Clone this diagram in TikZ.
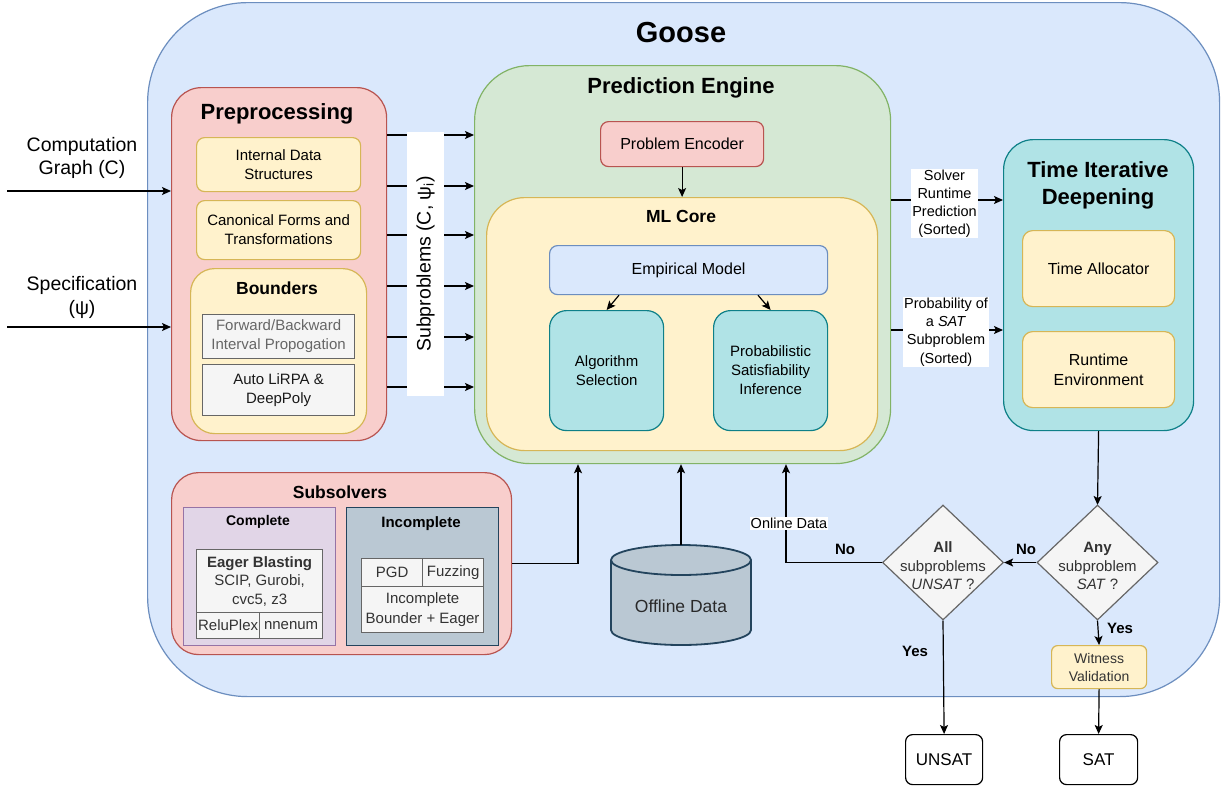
\documentclass[tikz,border=0pt]{standalone}
\usepackage{fontspec}
\setmainfont{Liberation Sans}
\usetikzlibrary{arrows.meta,shapes.geometric}
\definecolor{bfill}{HTML}{DAE8FC}\definecolor{bdraw}{HTML}{6C8EBF}
\definecolor{rfill}{HTML}{F8CECC}\definecolor{rdraw}{HTML}{B85450}
\definecolor{gfill}{HTML}{D5E8D4}\definecolor{gdraw}{HTML}{82B366}
\definecolor{yfill}{HTML}{FFF2CC}\definecolor{ydraw}{HTML}{D6B656}
\definecolor{tfill}{HTML}{B0E3E6}\definecolor{tdraw}{HTML}{0E8088}
\definecolor{kfill}{HTML}{F5F5F5}\definecolor{kdraw}{HTML}{666666}
\definecolor{pfill}{HTML}{E1D5E7}\definecolor{pdraw}{HTML}{9673A6}
\definecolor{sfill}{HTML}{BAC8D3}\definecolor{sdraw}{HTML}{23445D}
\definecolor{txtgray}{HTML}{333333}
\newcommand\fsz[2]{\fontsize{#1}{#2}\selectfont}
\tikzset{
  box/.style={draw, line width=1.2pt, inner sep=0pt, anchor=north west, align=center},
  redbox/.style={box, fill=rfill, draw=rdraw},
  grnbox/.style={box, fill=gfill, draw=gdraw},
  yelbox/.style={box, fill=yfill, draw=ydraw},
  tealbox/.style={box, fill=tfill, draw=tdraw},
  bluebox/.style={box, fill=bfill, draw=bdraw},
  graycell/.style={box, fill=kfill, draw=kdraw, text=txtgray},
  whitebox/.style={box, fill=white, draw=black},
  bigttl/.style={font=\bfseries\fsz{22}{27}, align=center, inner sep=0pt},
  midttl/.style={font=\bfseries\fsz{17.5}{21}, align=center, inner sep=0pt},
  dia/.style={diamond, draw=kdraw, fill=kfill, line width=1.2pt, minimum width=121pt, minimum height=115pt, inner sep=0pt},
  arr/.style={line width=1.2pt, -{Stealth[length=9pt,width=8pt,inset=2pt]}},
  conn/.style={line width=1.2pt},
  lbl/.style={fill=white, inner sep=1pt, align=center},
  yn/.style={font=\bfseries\fsz{15}{18}, inner sep=0pt},
}
\begin{document}
\begin{tikzpicture}[x=1pt,y=-1pt]
\fill[white] (0,0) rectangle (1223,785);
\useasboundingbox (0,0) rectangle (1223,785);

% Goose container
\node[bluebox, rounded corners=100pt, minimum width=1072pt, minimum height=694pt] (goose) at (147,2) {};
\node[font=\bfseries\fsz{29}{34}, inner sep=0pt] (gooset) at (681,33) {Goose};

% Inputs
\node[font=\fsz{19.5}{23}, align=center] (cg) at (82,158) {Computation\\Graph (C)};
\node[font=\fsz{19.5}{24}, align=center] (spec) at (82,297) {Specification\\(ψ)};
\coordinate (cgs) at (7,191);
\coordinate (sps) at (7,327);

% Preprocessing
\node[redbox, rounded corners=30pt, minimum width=215pt, minimum height=353pt] (pre) at (171,87) {};
\node[bigttl] (pret) at (277,114) {Preprocessing};
\node[yelbox, rounded corners=8pt, minimum width=164pt, minimum height=54pt, font=\fsz{15}{19}] (ids) at (196,137) {Internal Data\\Structures};
\node[yelbox, rounded corners=8pt, minimum width=164pt, minimum height=59pt, font=\fsz{15}{19}] (can) at (196,200) {Canonical Forms and\\Transformations};
\node[yelbox, rounded corners=24pt, minimum width=176pt, minimum height=165pt] (bnd) at (190,268) {};
\node[midttl] (bndt) at (277,288) {Bounders};
\node[graycell, minimum width=152pt, minimum height=44pt, font=\fsz{15}{19}, text=black!60] (fwd) at (202,314) {Forward/Backward\\Interval Propogation};
\node[graycell, minimum width=152pt, minimum height=51pt, font=\fsz{15}{19}, text=black!90] (alp) at (202,364) {Auto LiRPA \&\\DeepPoly};

\draw[arr] (cgs) -- (cgs -| pre.west);
\draw[arr] (sps) -- (sps -| pre.west);

% Prediction engine
\node[grnbox, rounded corners=55pt, minimum width=416pt, minimum height=398pt] (pe) at (474,65) {};
\node[bigttl] (pet) at (681,88) {Prediction Engine};
\node[redbox, rounded corners=8pt, minimum width=163pt, minimum height=45pt, font=\fsz{16}{19}] (enc) at (600,121) {Problem Encoder};
\node[yelbox, rounded corners=38pt, minimum width=391pt, minimum height=253pt] (ml) at (486,197) {};
\node[midttl] (mlt) at (681,216) {ML Core};
\node[bluebox, rounded corners=8pt, minimum width=278pt, minimum height=49pt, font=\fsz{16}{19}] (emp) at (549,245) {Empirical Model};
\node[tealbox, rounded corners=17pt, minimum width=114pt, minimum height=120pt, font=\fsz{15}{19}] (alg) at (549,310) {Algorithm\\Selection};
\node[tealbox, rounded corners=17pt, minimum width=114pt, minimum height=120pt, font=\fsz{15}{19}] (prob) at (713,310) {Probabilistic\\Satisfiability\\Inference};
\draw[arr] (enc.south) -- (ml.north);
\draw[arr] ([xshift=70pt]emp.south west) -- (alg.north);
\draw[arr] ([xshift=209pt]emp.south west) -- (prob.north);

% Subproblem arrows
\foreach \yy [count=\k] in {135,186,235,286,337,387} {
  \coordinate (sp\k) at (0,\yy);
  \draw[arr] (pre.east |- sp\k) -- (pe.west |- sp\k);
}
\node[fill=white, rotate=90, minimum width=264pt, minimum height=37pt, inner sep=0pt, font=\fsz{19.5}{23}] (sublbl) at (425.5,264) {Subproblems (C, ψ\textsubscript{i})};

% Time iterative deepening
\node[tealbox, rounded corners=30pt, minimum width=190pt, minimum height=291pt] (tid) at (1003,139) {};
\node[bigttl] (tidt) at (1098,185.5) {Time Iterative\\Deepening};
\node[yelbox, rounded corners=10pt, minimum width=152pt, minimum height=76pt, font=\fsz{16}{20}] (ta) at (1022,230) {Time Allocator};
\node[yelbox, rounded corners=10pt, minimum width=152pt, minimum height=76pt, font=\fsz{16}{20}] (re) at (1022,331) {Runtime\\Environment};

\coordinate (r1) at (0,200);
\coordinate (r2) at (0,330);
\draw[arr] (pe.east |- r1) -- (tid.west |- r1);
\draw[arr] (pe.east |- r2) -- (tid.west |- r2);
\node[lbl, font=\fsz{14.5}{18}] (l1) at (944.5,203.5) {Solver\\Runtime\\Prediction\\(Sorted)};
\node[lbl, font=\fsz{14.5}{18.3}] (l2) at (946,332) {Probability of\\a \textit{SAT}\\Subproblem\\(Sorted)};

% Subsolvers
\node[redbox, rounded corners=27pt, minimum width=340pt, minimum height=182pt] (sub) at (171,472) {};
\node[midttl] (subt) at (340,492) {Subsolvers};
\node[box, fill=pfill, draw=pdraw, minimum width=152pt, minimum height=138pt] (cmp) at (183,507) {};
\node[font=\bfseries\fsz{14}{17}, inner sep=0pt] (cmpt) at (258,522) {Complete};
\node[graycell, minimum width=126pt, minimum height=63pt, font=\fsz{15}{18.5}] (eb) at (196,549) {\textbf{Eager Blasting}\\SCIP, Gurobi,\\cvc5, z3};
\node[graycell, minimum width=63pt, minimum height=26pt, font=\fsz{15}{18}] (rp) at (196,612) {ReluPlex};
\node[graycell, minimum width=63pt, minimum height=26pt, font=\fsz{15}{18}] (nn) at (259,612) {nnenum};
\node[box, fill=sfill, draw=sdraw, minimum width=152pt, minimum height=138pt] (inc) at (346,507) {};
\node[font=\bfseries\fsz{15}{18}, inner sep=0pt] (inct) at (421,524) {Incomplete};
\node[graycell, minimum width=61pt, minimum height=28pt, font=\fsz{15}{18}] (pgd) at (361,558) {PGD};
\node[graycell, minimum width=61pt, minimum height=28pt, font=\fsz{15}{18}] (fuz) at (422,558) {Fuzzing};
\node[graycell, minimum width=122pt, minimum height=46pt, font=\fsz{15}{20}] (ibe) at (361,586) {Incomplete\\Bounder + Eager};
\draw[arr] (sub.east) -| ([xshift=104pt]pe.south west);

% Offline data
\filldraw[fill=sfill, draw=sdraw, line width=1.8pt] (611,560) -- (611,630) arc[start angle=180, end angle=360, x radius=70pt, y radius=15pt] -- (751,560) arc[start angle=0, end angle=180, x radius=70pt, y radius=15pt] -- cycle;
\draw[draw=sdraw, line width=1.8pt] (611,560) arc[start angle=180, end angle=360, x radius=70pt, y radius=15pt];
\coordinate (offtop) at (681,545);
\node[font=\fsz{17.5}{21}, text=txtgray!80!black] (off) at (681,606) {Offline Data};
\draw[arr] (offtop) -- (offtop |- pe.south);

% Decisions
\draw[arr] (tid.south) -- (1097.5,505) coordinate (anytop);
\node[dia] (any) at (1097.5,562.5) {};
\node[align=center, font=\fsz{15}{18.5}, text=txtgray, inner sep=0pt] (anyt) at (1097.5,566) {\textbf{Any}\\subproblem\\\textit{SAT} ?};
\node[dia] (all) at (943,562.5) {};
\node[align=center, font=\fsz{15}{18.5}, text=txtgray, inner sep=0pt] (allt) at (943,566) {\textbf{All}\\subproblems\\\textit{UNSAT} ?};
\draw[arr] (any.west) -- (all.east);
\node[yn] (no1) at (1026,549) {No};
\draw[arr] (all.west) -| ([xshift=312pt]pe.south west);
\node[yn] (no2) at (845,549) {No};
\node[lbl, font=\fsz{14.5}{17}] (onl) at (789,523.5) {Online Data};

\node[yelbox, rounded corners=6pt, minimum width=95pt, minimum height=43pt, font=\fsz{14}{18}, text=txtgray] (wit) at (1051,645) {Witness\\Validation};
\node[whitebox, rounded corners=7pt, minimum width=77pt, minimum height=50pt, font=\fsz{17}{20}] (unsat) at (905,734) {UNSAT};
\node[whitebox, rounded corners=7pt, minimum width=78pt, minimum height=50pt, font=\fsz{17}{20}] (sat) at (1059,734) {SAT};
\draw[arr] (any.south) -- (wit.north);
\node[yn] (yes1) at (1120,628) {Yes};
\draw[arr] (all.south) -- (unsat.north);
\node[yn] (yes2) at (915,651) {Yes};
\draw[arr] (wit.south) -- (sat.north);
\end{tikzpicture}
\end{document}
